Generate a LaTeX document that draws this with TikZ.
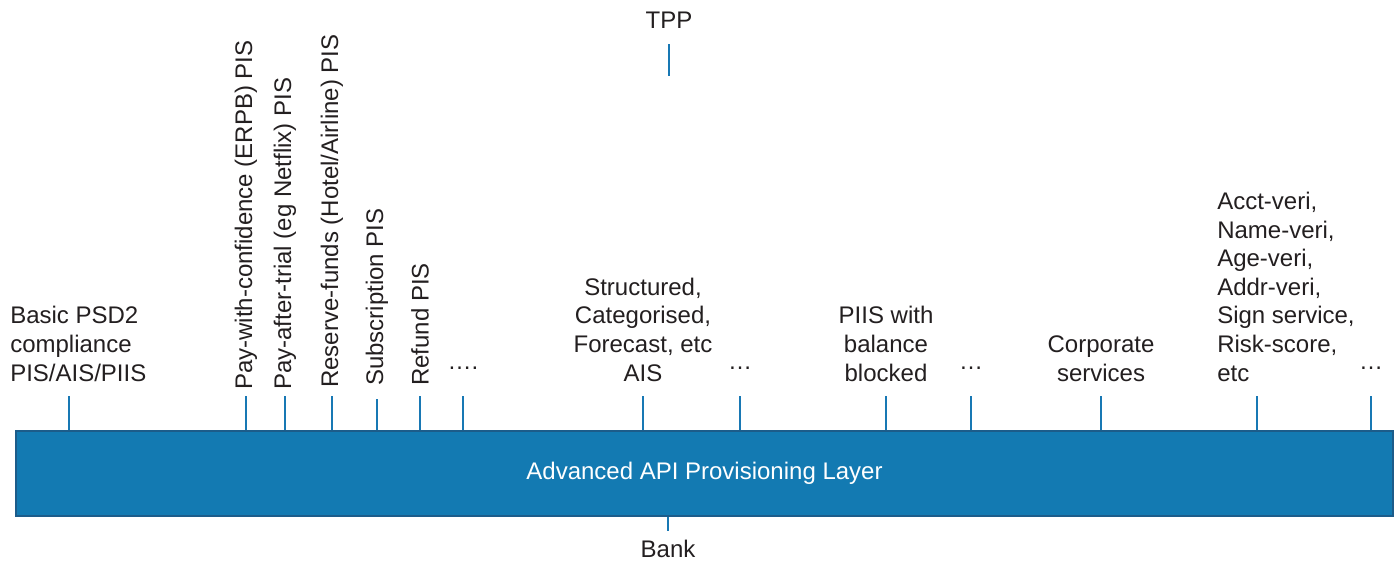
\documentclass[tikz,border=0pt]{standalone}
\usepackage{fontspec}
\setmainfont{Liberation Sans}
\definecolor{barfill}{RGB}{19,122,178}
\definecolor{barline}{RGB}{28,92,138}
\definecolor{tickc}{RGB}{24,120,180}
\definecolor{txt}{RGB}{35,31,32}
\begin{document}
\begin{tikzpicture}[x=0.75pt,y=-0.75pt,
  font=\fontsize{18}{21.4}\selectfont,
  every node/.style={text=txt, inner sep=0pt},
  lbl/.style={align=center, anchor=south},
  lbll/.style={align=left, anchor=south west},
  rot/.style={rotate=90, anchor=west},
  dots/.style={anchor=base},
  tick/.style={draw=tickc, line width=1.2pt},
  layer/.style={draw=barline, fill=barfill, line width=1.3pt, text=white,
    minimum width=1032.75pt, minimum height=63.75pt}]
\useasboundingbox (0,0) rectangle (1394,562);

% layer bar
\node[layer] (bar) at (704.5,473.5) {\raisebox{-1.5pt}{Advanced API Provisioning Layer}};

% TPP and Bank
\node[anchor=base] (tpp) at (669,28.5) {TPP};
\coordinate (tppa) at (669,44);
\coordinate (tppb) at (669,76);
\draw[tick] (tppa) -- (tppb);
\node[anchor=base] (bank) at (668,557.5) {Bank};
\coordinate (bankt) at (668,531);
\draw[tick] (bar.south -| bankt) -- (bankt);

% labels
\node[lbll] (basic) at (10,381.5) {Basic PSD2\\compliance\\PIS/AIS/PIIS};
\node[rot] (pwc) at (246,390) {Pay-with-confidence (ERPB) PIS};
\node[rot] (pat) at (285,390) {Pay-after-trial (eg Netflix) PIS};
\node[rot] (rfd) at (332,388) {Reserve-funds (Hotel/Airline) PIS};
\node[rot] (sub) at (377,386) {Subscription PIS};
\node[rot] (rfn) at (420,386) {Refund PIS};
\node[dots] (d1) at (463,380) {\raisebox{8pt}{….}};
\node[lbl] (ais) at (643,381.5) {Structured,\\Categorised,\\Forecast, etc\\AIS};
\node[dots] (d2) at (740,380) {\raisebox{8pt}{…}};
\node[lbl] (piis) at (886,381.5) {PIIS with\\balance\\blocked};
\node[dots] (d3) at (971,380) {\raisebox{8pt}{…}};
\node[lbl] (corp) at (1101,381.5) {Corporate\\services};
\node[lbll] (veri) at (1217,381.5) {Acct-veri,\\Name-veri,\\Age-veri,\\Addr-veri,\\Sign service,\\Risk-score,\\etc};
\node[dots] (d4) at (1371,380) {\raisebox{8pt}{…}};

% ticks
\foreach \n/\x/\y in {basic/69/396, pwc/246/396, pat/285/396, rfd/332/396,
  sub/377/399, rfn/420/396, d1/463/396, ais/643/396, d2/740/396,
  piis/886/396, d3/971/396, corp/1101/396, veri/1257/396, d4/1371/396}{
  \coordinate (t-\n) at (\x,\y);
  \draw[tick] (t-\n) -- (t-\n |- bar.north);
}
\end{tikzpicture}
\end{document}
